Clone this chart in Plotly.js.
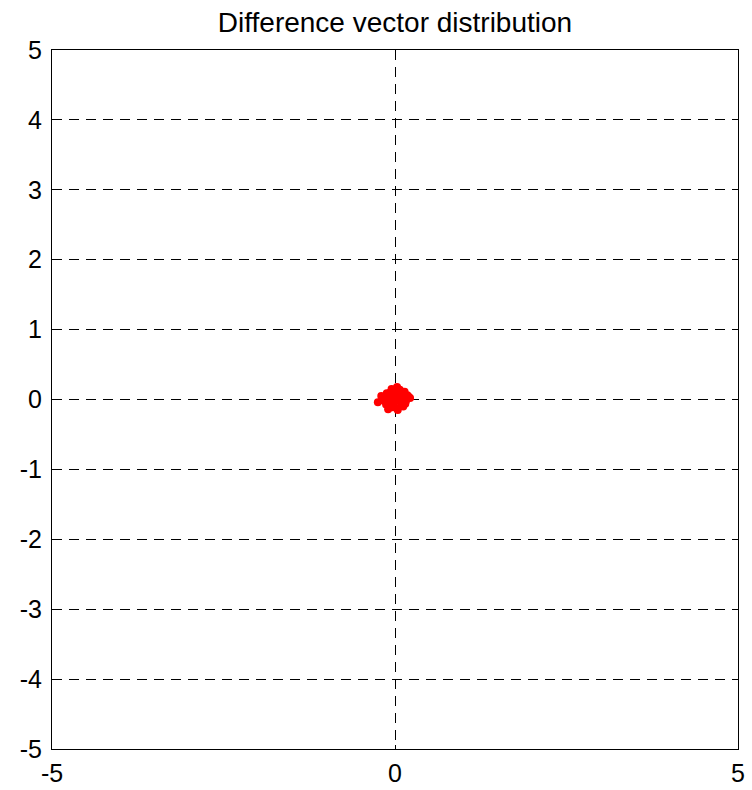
<!DOCTYPE html>
<html>
<head>
<meta charset="utf-8">
<script src="https://cdn.plot.ly/plotly-3.0.1.min.js"></script>
<style>
  html, body { margin: 0; padding: 0; background: #fff; }
  #chart { width: 752px; height: 790px; }
</style>
</head>
<body>
<div id="chart"></div>
<script>
// Difference vectors (dx, dy) between matched positions
const dx = [-0.02, 0.05, -0.08, 0.10, 0.15, -0.15, 0.02, -0.05, 0.08, 0.20,
            -0.25, -0.12, 0.12, 0.00, -0.03, 0.06, -0.10, 0.18, 0.03, -0.07,
            0.09, -0.18, 0.14, 0.01, -0.04, 0.07, 0.22, -0.20, 0.04, -0.09,
            -0.13, 0.11, -0.01, 0.16, -0.06];
const dy = [0.05, 0.12, -0.03, 0.08, -0.06, 0.02, -0.12, 0.15, 0.03, 0.04,
            -0.04, 0.09, -0.10, 0.00, -0.08, -0.02, -0.14, 0.06, 0.18, 0.10,
            -0.05, -0.01, 0.11, 0.07, -0.11, 0.14, 0.02, 0.05, -0.15, 0.01,
            -0.07, -0.09, 0.09, -0.02, 0.04];

const xTicks = [-5, 0, 5];
const yTicks = [-5, -4, -3, -2, -1, 0, 1, 2, 3, 4, 5];

const font = { family: "Liberation Sans, Arial, sans-serif", size: 25, color: "#000" };

const axisBase = {
  range: [-5, 5],
  tickmode: "array",
  showline: true,
  mirror: "ticks",
  linecolor: "#000",
  linewidth: 1,
  ticks: "inside",
  ticklen: 4,
  tickcolor: "#000",
  showgrid: true,
  gridcolor: "#000",
  gridwidth: 1,
  griddash: "10px,7px",
  zeroline: false,
  tickfont: font,
  fixedrange: true
};

const trace = {
  type: "scatter",
  mode: "markers",
  x: dx,
  y: dy,
  marker: { color: "#ff0000", size: 8, line: { width: 0 } },
  hoverinfo: "x+y"
};

const layout = {
  width: 752,
  height: 790,
  margin: { l: 52, r: 14, t: 50, b: 41 },
  paper_bgcolor: "#fff",
  plot_bgcolor: "#fff",
  showlegend: false,
  title: {
    text: "Difference vector distribution",
    font: { family: "Liberation Sans, Arial, sans-serif", size: 28, color: "#000" },
    x: 0.5, xanchor: "center", xref: "paper",
    y: 0.972, yanchor: "middle"
  },
  xaxis: Object.assign({}, axisBase, { tickvals: xTicks, ticktext: xTicks.map(String), ticklabelstandoff: 2 }),
  yaxis: Object.assign({}, axisBase, { tickvals: yTicks, ticktext: yTicks.map(String), ticklabelstandoff: 4 })
};

Plotly.newPlot("chart", [trace], layout, { displayModeBar: false, staticPlot: true });
</script>
</body>
</html>
